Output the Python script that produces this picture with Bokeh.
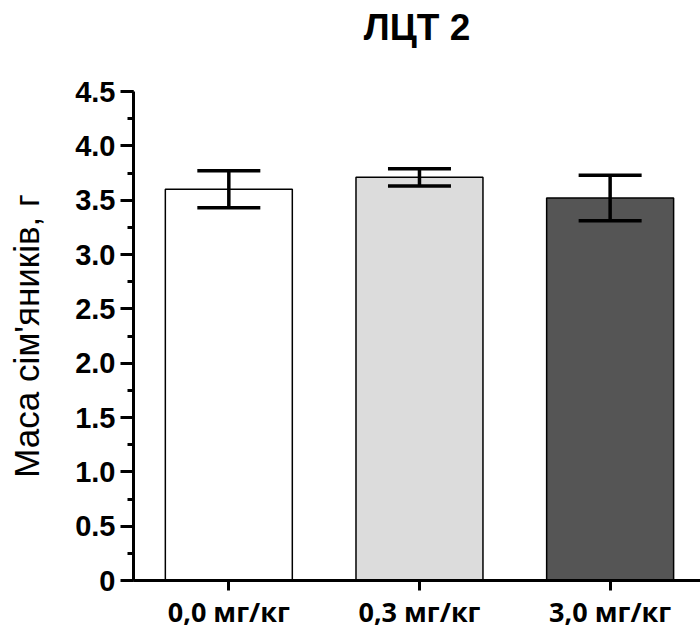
from bokeh.plotting import figure
from bokeh.models import Range1d, FixedTicker, ColumnDataSource, Whisker, TeeHead
from bokeh.embed import file_html
from bokeh.resources import INLINE

title_text = "ЛЦТ 2"
categories = ["0,0 мг/кг", "0,3 мг/кг", "3,0 мг/кг"]
means = [3.60, 3.71, 3.52]
upper = [3.77, 3.79, 3.73]
lower = [3.43, 3.63, 3.31]
colors = ["#ffffff", "#dcdcdc", "#555555"]
y_ticks = [0, 0.5, 1.0, 1.5, 2.0, 2.5, 3.0, 3.5, 4.0, 4.5]
y_tick_labels = ["0", "0.5", "1.0", "1.5", "2.0", "2.5", "3.0", "3.5", "4.0", "4.5"]

xs = list(range(len(categories)))
src = ColumnDataSource(dict(x=xs, top=means, upper=upper, lower=lower, color=colors))

p = figure(width=700, height=632, output_backend="svg", toolbar_location=None,
           x_range=Range1d(-0.5, 2.474), y_range=Range1d(0, 4.5),
           min_border_left=133, min_border_right=0, min_border_top=91, min_border_bottom=51)
p.outline_line_color = None
p.xgrid.visible = False
p.ygrid.visible = False
p.background_fill_color = "white"
p.border_fill_color = "white"

# trailing empty line reserves space so the title sits near the top edge
p.title.text = title_text + "\n"
p.title.align = "center"
p.title.vertical_align = "top"
p.title.text_font = "Liberation Sans"
p.title.text_font_size = "37px"
p.title.text_font_style = "bold"
p.title.text_color = "black"
p.title.text_line_height = 1.0
p.title.standoff = 2

p.vbar(x="x", top="top", bottom=0, width=0.666, fill_color="color",
       line_color="black", line_width=1.5, source=src)

w = Whisker(base="x", upper="upper", lower="lower", source=src, level="overlay",
            line_color="black", line_width=3.5,
            upper_head=TeeHead(size=63, line_width=3.5, line_color="black"),
            lower_head=TeeHead(size=63, line_width=3.5, line_color="black"))
p.add_layout(w)

# y axis
ya = p.yaxis[0]
ya.ticker = FixedTicker(ticks=y_ticks, minor_ticks=[i * 0.25 for i in range(19)])
ya.major_label_overrides = {t: s for t, s in zip(y_ticks, y_tick_labels)}
ya.axis_label = "Маса сім'яників, г"
ya.axis_label_text_font = "Liberation Sans"
ya.axis_label_text_font_size = "35px"
ya.axis_label_text_font_style = "normal"
ya.axis_label_text_color = "black"
ya.axis_label_standoff = 26
ya.major_label_text_font = "Liberation Sans"
ya.major_label_text_font_size = "29px"
ya.major_label_text_font_style = "bold"
ya.major_label_text_color = "black"
ya.major_label_standoff = 5
ya.axis_line_width = 3
ya.axis_line_color = "black"
ya.major_tick_line_width = 3
ya.major_tick_line_color = "black"
ya.major_tick_out = 13
ya.major_tick_in = 0
ya.minor_tick_line_width = 3
ya.minor_tick_line_color = "black"
ya.minor_tick_out = 6
ya.minor_tick_in = 0

# x axis
xa = p.xaxis[0]
xa.ticker = FixedTicker(ticks=xs)
xa.major_label_overrides = {i: c for i, c in zip(xs, categories)}
xa.major_label_text_font = "Open Sans"
xa.major_label_text_font_size = "27px"
xa.major_label_text_font_style = "bold"
xa.major_label_text_color = "black"
xa.major_label_standoff = 2
xa.axis_line_width = 3
xa.axis_line_color = "black"
xa.major_tick_line_width = 3
xa.major_tick_line_color = "black"
xa.major_tick_out = 10
xa.major_tick_in = 0
xa.minor_tick_line_color = None

html = file_html(p, INLINE)
open("out.html", "w").write(html)
